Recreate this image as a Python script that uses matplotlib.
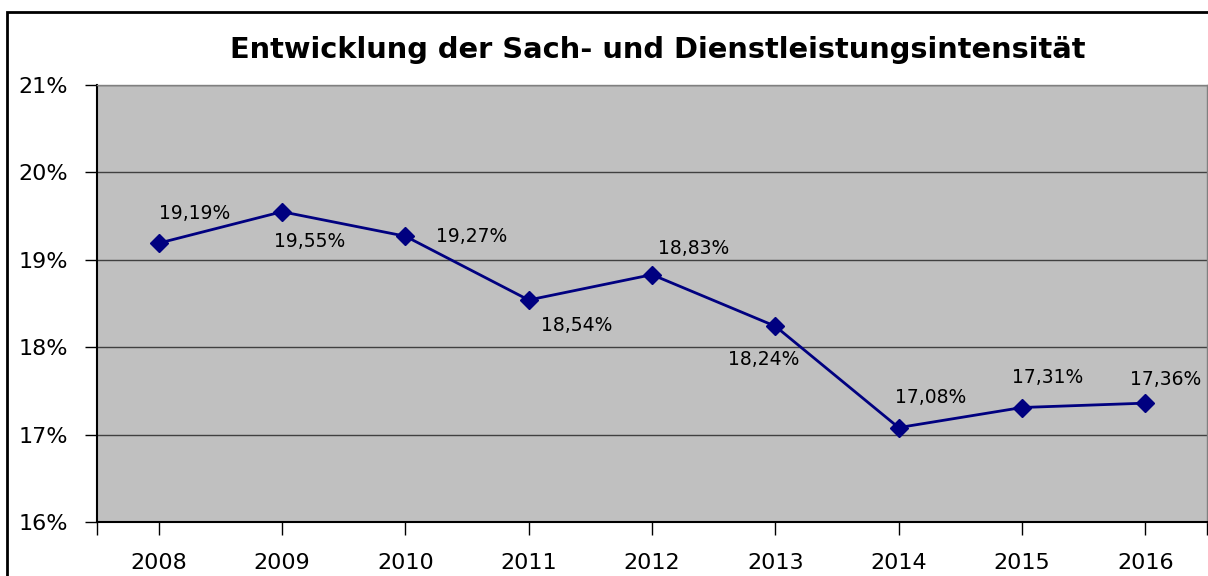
import matplotlib.pyplot as plt
from matplotlib.patches import Rectangle
from matplotlib.ticker import FixedLocator

jahre = ['2008', '2009', '2010', '2011', '2012', '2013', '2014', '2015', '2016']
werte = [19.19, 19.55, 19.27, 18.54, 18.83, 18.24, 17.08, 17.31, 17.36]
y_ticks = [16, 17, 18, 19, 20, 21]

# label offsets in pixels (dx, dy)
offs = [(36, 30), (28, -30), (66, 0), (48, -25), (42, 26), (-12, -33),
        (32, 30), (26, 30), (20, 24)]

fig = plt.figure(figsize=(12.08, 5.76), dpi=100)
fig.patch.set_facecolor('white')
fig.patches.append(Rectangle((7/1208, -0.2), 1.2, 1 - 12/576 + 0.2, transform=fig.transFigure,
                             fill=False, edgecolor='black', linewidth=2))

ax = fig.add_axes([97/1208, 54/576, 1110/1208, 437/576])
ax.set_facecolor('#c0c0c0')

x = list(range(len(jahre)))
ax.plot(x, werte, color='#000080', linewidth=2, marker='D', markersize=9, zorder=3)
for i, v in enumerate(werte):
    ax.annotate(f'{v:.2f}%'.replace('.', ','), (i, v), xytext=offs[i],
                textcoords='offset pixels', ha='center', va='center', fontsize=13.5)

ax.set_xlim(-0.5, len(jahre) - 0.5)
ax.set_ylim(16, 21)
ax.set_yticks(y_ticks)
ax.set_yticklabels([f'{t}%' for t in y_ticks])
ax.set_xticks(x)
ax.set_xticklabels(jahre)
ax.xaxis.set_minor_locator(FixedLocator([-0.5, len(jahre) - 0.5]))
ax.tick_params(axis='both', labelsize=16, length=9, width=1, color='black')
ax.tick_params(axis='x', which='minor', length=9, width=1)
ax.tick_params(axis='x', pad=13)
ax.tick_params(axis='y', pad=12)
ax.yaxis.grid(True, color='#404040', linewidth=1)
ax.set_axisbelow(True)

for s in ['left', 'bottom']:
    ax.spines[s].set_color('black')
    ax.spines[s].set_linewidth(1.5)
for s in ['top', 'right']:
    ax.spines[s].set_color('#808080')
    ax.spines[s].set_linewidth(1)

fig.text(658/1208, 1 - 50/576, 'Entwicklung der Sach- und Dienstleistungsintensität',
         ha='center', va='center', fontsize=20.8, fontweight='bold')

fig.savefig('out.png', dpi=100)
